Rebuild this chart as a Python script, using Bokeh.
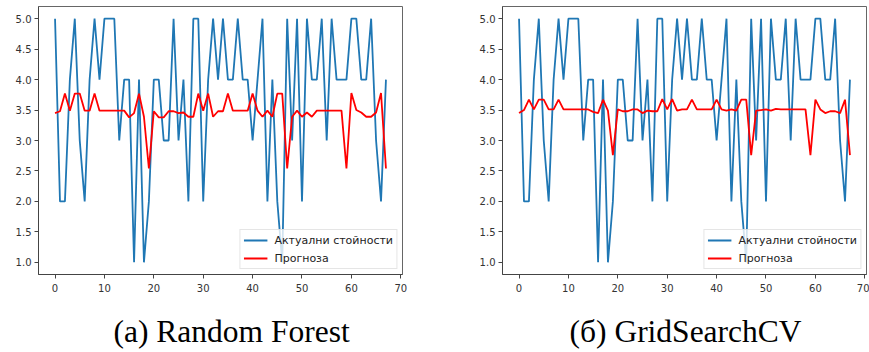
from bokeh.plotting import figure
from bokeh.layouts import row
from bokeh.models import (Range1d, FixedTicker, PrintfTickFormatter, Legend,
                          LegendItem, Title)
from bokeh.embed import file_html
from bokeh.resources import INLINE

# ---- data ----
actual = [5, 2, 2, 4, 5, 3, 2, 4, 5, 4,
          5, 5, 5, 3, 4, 4, 1, 4, 1, 2,
          4, 4, 3, 3, 5, 3, 4, 2, 5, 5,
          2, 4, 5, 4, 5, 4, 4, 5, 4, 4,
          3, 4, 5, 2, 4, 2, 1, 5, 3, 5,
          2, 5, 4, 4, 5, 3, 5, 4, 4, 4,
          5, 5, 4, 4, 5, 3, 2, 4]

pred_rf = [3.45, 3.48, 3.77, 3.49, 3.77, 3.77, 3.49, 3.49, 3.77, 3.49,
           3.49, 3.49, 3.49, 3.49, 3.49, 3.38, 3.45, 3.77, 3.39, 2.54,
           3.48, 3.38, 3.38, 3.48, 3.48, 3.45, 3.46, 3.39, 3.39, 3.77,
           3.49, 3.77, 3.39, 3.48, 3.48, 3.77, 3.49, 3.49, 3.49, 3.49,
           3.77, 3.49, 3.39, 3.49, 3.39, 3.77, 3.77, 2.54, 3.39, 3.49,
           3.39, 3.46, 3.39, 3.49, 3.49, 3.49, 3.49, 3.49, 3.49, 2.54,
           3.78, 3.50, 3.46, 3.39, 3.39, 3.46, 3.78, 2.54]

pred_gs = [3.45, 3.50, 3.67, 3.51, 3.67, 3.67, 3.51, 3.51, 3.67, 3.51,
           3.51, 3.51, 3.51, 3.51, 3.51, 3.47, 3.45, 3.67, 3.49, 2.76,
           3.51, 3.48, 3.48, 3.51, 3.51, 3.45, 3.49, 3.48, 3.48, 3.68,
           3.51, 3.68, 3.49, 3.51, 3.51, 3.67, 3.51, 3.51, 3.51, 3.51,
           3.67, 3.51, 3.49, 3.51, 3.49, 3.67, 3.67, 2.76, 3.49, 3.50,
           3.51, 3.49, 3.52, 3.51, 3.51, 3.51, 3.51, 3.51, 3.51, 2.76,
           3.67, 3.51, 3.45, 3.48, 3.48, 3.45, 3.67, 2.76]

x_idx = list(range(len(actual)))
x_ticks = [0, 10, 20, 30, 40, 50, 60, 70]
y_ticks = [1.0, 1.5, 2.0, 2.5, 3.0, 3.5, 4.0, 4.5, 5.0]
legend_labels = ["Актуални стойности", "Прогноза"]
captions = ["(а) Random Forest", "(б) GridSearchCV"]

BLUE = "#1f77b4"
RED = "#ff0000"
AX = "#444444"
FRAME_W = 364
FRAME_H = 268
TOP = 6
TOTAL_H = 352


def make_panel(pred, caption, border_left, border_right, cap_offset):
    p = figure(frame_width=FRAME_W, frame_height=FRAME_H,
               min_border_left=border_left, min_border_right=border_right,
               min_border_top=TOP, min_border_bottom=TOTAL_H - TOP - FRAME_H,
               x_range=Range1d(-3.35, 70.35), y_range=Range1d(0.8, 5.2),
               output_backend="svg", toolbar_location=None)
    p.grid.visible = False
    p.outline_line_color = "#666666"
    p.background_fill_color = "white"
    p.border_fill_color = "white"

    p.xaxis.ticker = FixedTicker(ticks=x_ticks)
    p.yaxis.ticker = FixedTicker(ticks=y_ticks)
    p.yaxis.formatter = PrintfTickFormatter(format="%.1f")
    for ax in (p.xaxis, p.yaxis):
        ax.axis_line_color = AX
        ax.major_tick_line_color = AX
        ax.major_tick_out = 4
        ax.major_tick_in = 0
        ax.minor_tick_out = 0
        ax.minor_tick_in = 0
        ax.major_label_text_font = "DejaVu Sans"
        ax.major_label_text_font_size = "10px"
        ax.major_label_text_color = "#333333"
    p.xaxis.major_label_standoff = 5
    p.yaxis.major_label_standoff = 3
    # small empty spacer between tick labels and the caption
    p.xaxis.axis_label = " "
    p.xaxis.axis_label_text_font_size = "2px"
    p.xaxis.axis_label_standoff = 12

    r1 = p.line(x_idx, actual, line_color=BLUE, line_width=1.8)
    r2 = p.line(x_idx, pred, line_color=RED, line_width=1.8)

    legend = Legend(items=[LegendItem(label=legend_labels[0], renderers=[r1]),
                           LegendItem(label=legend_labels[1], renderers=[r2])],
                    location="bottom_right")
    legend.label_text_font = "DejaVu Sans"
    legend.label_text_font_size = "11px"
    legend.label_text_color = "#222222"
    legend.glyph_width = 24
    legend.glyph_height = 14
    legend.label_height = 14
    legend.label_standoff = 7
    legend.padding = 3
    legend.spacing = 4
    legend.margin = 5
    legend.border_line_color = "#cccccc"
    legend.background_fill_alpha = 0.8
    p.add_layout(legend)

    cap = Title(text=caption, align="left", offset=cap_offset,
                text_font="Liberation Serif", text_font_size="31.5px",
                text_font_style="normal", text_color="black", standoff=0)
    p.add_layout(cap, "below")
    return p


p1 = make_panel(pred_rf, captions[0], 38, 60, 75)
p2 = make_panel(pred_gs, captions[1], 40, 3, 67)
layout = row(p1, p2)

open("out.html", "w").write(file_html(layout, INLINE))
